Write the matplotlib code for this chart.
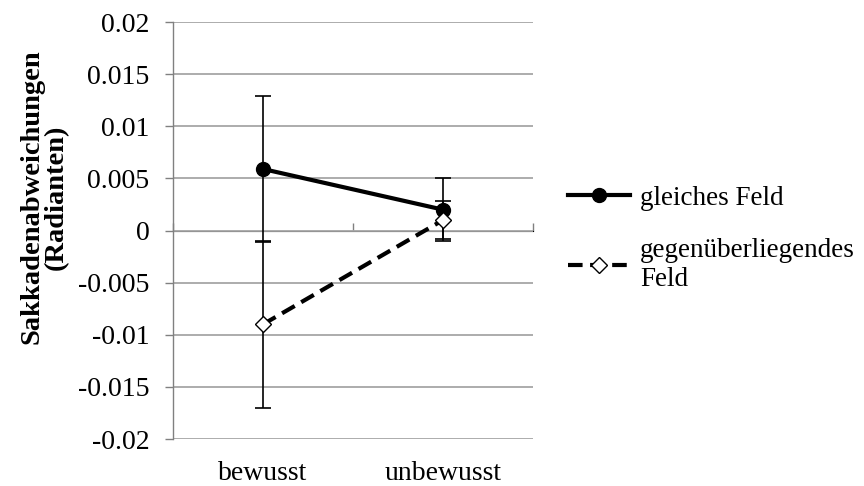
import numpy as np
import matplotlib
matplotlib.use("Agg")
from matplotlib import pyplot as plt

plt.rcParams['font.family'] = ['Liberation Serif', 'DejaVu Serif']
plt.rcParams['axes.unicode_minus'] = False

# data
categories = ["bewusst", "unbewusst"]
same_field = [0.0059, 0.002]
same_err = [0.007, 0.003]
opp_field = [-0.009, 0.001]
opp_err = [0.008, 0.0018]
yticks = [-0.02, -0.015, -0.01, -0.005, 0, 0.005, 0.01, 0.015, 0.02]
ytick_labels = ["-0.02", "-0.015", "-0.01", "-0.005", "0", "0.005", "0.01", "0.015", "0.02"]

grid_col = "#a6a6a6"
fs = 20

fig = plt.figure(figsize=(8.64, 4.86), dpi=100)
ax = fig.add_axes([0.2002, 0.0967, 0.4167, 0.858])

x = np.arange(len(categories)) + 0.5

ax.errorbar(x, same_field, yerr=same_err, fmt='none', ecolor='black',
            elinewidth=1.2, capsize=6, capthick=1.2, zorder=3)
ax.errorbar(x, opp_field, yerr=opp_err, fmt='none', ecolor='black',
            elinewidth=1.2, capsize=6, capthick=1.2, zorder=3)
ax.plot(x, same_field, color='black', lw=3, marker='o', markersize=10,
        label="gleiches Feld", zorder=4)
ax.plot(x, opp_field, color='black', lw=3, ls=(0, (3.5, 1.8)), marker='D',
        markersize=8.5, markerfacecolor='white', markeredgecolor='black',
        markeredgewidth=1, label="gegenüberliegendes\nFeld", zorder=4)

ax.set_xlim(0, 2)
ax.set_ylim(-0.02, 0.02)
ax.set_yticks(yticks)
ax.set_yticklabels(ytick_labels, fontsize=fs)
ax.set_xticks(x)
ax.set_xticklabels(categories, fontsize=fs)
ax.tick_params(axis='x', length=0, pad=16)
ax.tick_params(axis='y', direction='out', length=6, width=1, color='#808080', pad=11)

ax.grid(axis='y', color=grid_col, lw=1.3)
ax.set_axisbelow(True)
for side in ['right', 'top', 'bottom']:
    ax.spines[side].set_visible(False)
ax.spines['left'].set_color('#808080')
ax.spines['left'].set_linewidth(1)

# category axis crossing at zero
zax = ax.secondary_xaxis(0.5)
zax.set_xticks([0, 1, 2])
zax.set_xticklabels(["", "", ""])
zax.tick_params(direction='out', length=6, width=1, color='#808080')
zax.spines['bottom'].set_color(grid_col)
zax.spines['bottom'].set_linewidth(1.3)

fig.text(0.051, 0.595, "Sakkadenabweichungen\n(Radianten)", fontsize=20.5,
         fontweight='bold', rotation=90, ha='center', va='center',
         multialignment='center', linespacing=1.0)

fig.legend(loc='upper left', bbox_to_anchor=(0.645, 0.64), frameon=False,
           fontsize=19.5, handlelength=2.3, handletextpad=0.35, labelspacing=1.0,
           borderaxespad=0)

fig.savefig("out.png", dpi=100)
